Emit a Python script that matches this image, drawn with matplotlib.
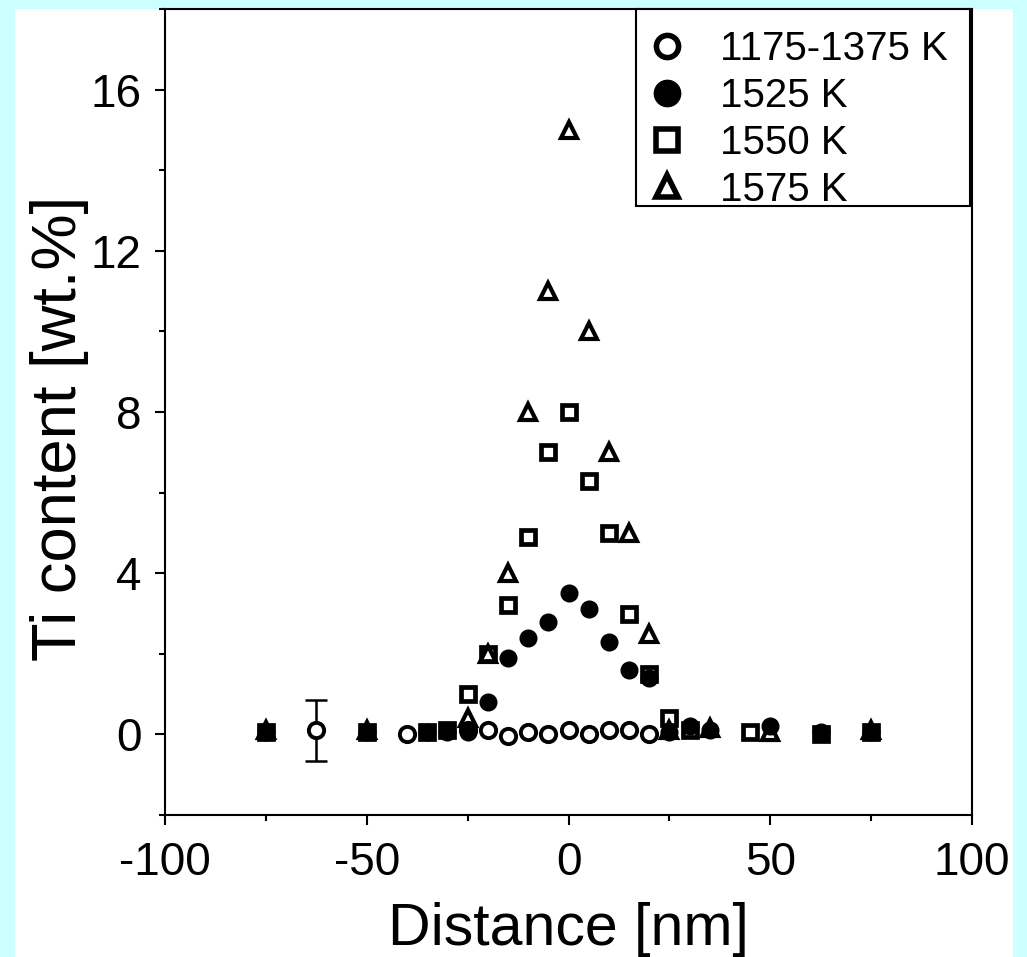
import matplotlib
matplotlib.use("Agg")
import matplotlib.pyplot as plt
from matplotlib.ticker import MultipleLocator
from matplotlib.patches import Rectangle

plt.rcParams['font.family'] = ['Liberation Sans', 'DejaVu Sans']

# Data
x_1175 = [-62.5, -40, -25, -20, -15, -10, -5, 0, 5, 10, 15, 20]
y_1175 = [0.1, 0.0, 0.1, 0.1, -0.05, 0.05, 0.0, 0.1, 0.0, 0.1, 0.1, 0.0]
err_x = [-62.5]
err_y = [0.1]
err_val = [0.75]

x_1525 = [-75, -50, -35, -30, -25, -20, -15, -10, -5, 0, 5, 10, 15, 20, 25, 30, 35, 50, 62.5, 75]
y_1525 = [0.05, 0.05, 0.05, 0.05, 0.05, 0.8, 1.9, 2.4, 2.8, 3.5, 3.1, 2.3, 1.6, 1.4, 0.05, 0.2, 0.1, 0.2, 0.05, 0.05]

x_1550 = [-75, -50, -35, -30, -25, -20, -15, -10, -5, 0, 5, 10, 15, 20, 25, 30, 45, 62.5, 75]
y_1550 = [0.05, 0.05, 0.05, 0.1, 1.0, 2.0, 3.2, 4.9, 7.0, 8.0, 6.3, 5.0, 3.0, 1.5, 0.4, 0.1, 0.05, 0.0, 0.05]

x_1575 = [-75, -50, -25, -20, -15, -10, -5, 0, 5, 10, 15, 20, 25, 35, 50, 75]
y_1575 = [0.1, 0.1, 0.4, 2.0, 4.0, 8.0, 11.0, 15.0, 10.0, 7.0, 5.0, 2.5, 0.1, 0.15, 0.05, 0.1]

labels = ['1175-1375 K', '1525 K', '1550 K', '1575 K']
x_ticks = [-100, -50, 0, 50, 100]
y_ticks = [0, 4, 8, 12, 16]

W, H = 1027, 957
fig = plt.figure(figsize=(W / 100, H / 100), dpi=100)
fig.patch.set_facecolor('#ccffff')
fig.patches.append(Rectangle((15 / W, 0), (1013 - 15) / W, (957 - 9) / H,
                             transform=fig.transFigure, facecolor='white',
                             edgecolor='none', zorder=-10))

AX_L, AX_R, AX_T, AX_B = 165, 972, 9, 815
ax = fig.add_axes([AX_L / W, (H - AX_B) / H, (AX_R - AX_L) / W, (AX_B - AX_T) / H])
ax.set_facecolor('white')

ms = 11
ax.errorbar(err_x, err_y, yerr=err_val, fmt='none', ecolor='black',
            elinewidth=1.8, capsize=8, capthick=1.8, zorder=2)
h1, = ax.plot(x_1175, y_1175, 'o', ms=ms, mfc='white', mec='black', mew=2.8,
              linestyle='none', label=labels[0], zorder=3)
h2, = ax.plot(x_1525, y_1525, 'o', ms=ms, mfc='black', mec='black', mew=2.0,
              linestyle='none', label=labels[1], zorder=3)
h3, = ax.plot(x_1550, y_1550, 's', ms=ms - 0.5, mfc='none', mec='black', mew=3.4,
              linestyle='none', label=labels[2], zorder=4)
h4, = ax.plot(x_1575, y_1575, '^', ms=ms, mfc='none', mec='black', mew=3.0,
              linestyle='none', label=labels[3], zorder=5)

ax.set_xlim(-100, 100)
ax.set_ylim(-2, 18)
ax.set_xticks(x_ticks)
ax.set_xticklabels([str(v) for v in x_ticks])
ax.set_yticks(y_ticks)
ax.set_yticklabels([str(v) for v in y_ticks])
ax.xaxis.set_minor_locator(MultipleLocator(25))
ax.yaxis.set_minor_locator(MultipleLocator(2))

for s in ax.spines.values():
    s.set_linewidth(1.5)
ax.tick_params(which='major', direction='out', length=7, width=1.5,
               labelsize=33, pad=10)
ax.tick_params(which='minor', direction='out', length=4, width=1.5)
ax.tick_params(axis='x', which='major', pad=12)

ax.set_xlabel('Distance [nm]', fontsize=42.5, labelpad=12)
ax.set_ylabel('Ti content [wt.%]', fontsize=45.5, labelpad=1)
ax.yaxis.label.set_y(0.48)

# legend box (pixel geometry converted to axes fraction)
aw, ah = AX_R - AX_L, AX_B - AX_T
bx0, bx1, by0, by1 = 636, 970, 9, 206
ax.add_patch(Rectangle(((bx0 - AX_L) / aw, (AX_B - by1) / ah),
                       (bx1 - bx0) / aw, (by1 - by0) / ah,
                       transform=ax.transAxes, facecolor='white',
                       edgecolor='black', linewidth=1.5, zorder=9,
                       clip_on=False))

leg = ax.legend(handles=[h1, h2, h3, h4], loc='upper left',
                bbox_to_anchor=((649 - AX_L) / aw, (AX_B - 30) / ah),
                borderaxespad=0.0, borderpad=0.0, fontsize=29,
                markerscale=1.45, handlelength=0.9, handletextpad=0.87,
                labelspacing=0.22, frameon=False)
leg.set_zorder(10)
for lh in leg.legend_handles:
    lh.set_markeredgewidth(4.0)

fig.savefig('out.png', dpi=100, facecolor=fig.get_facecolor())
